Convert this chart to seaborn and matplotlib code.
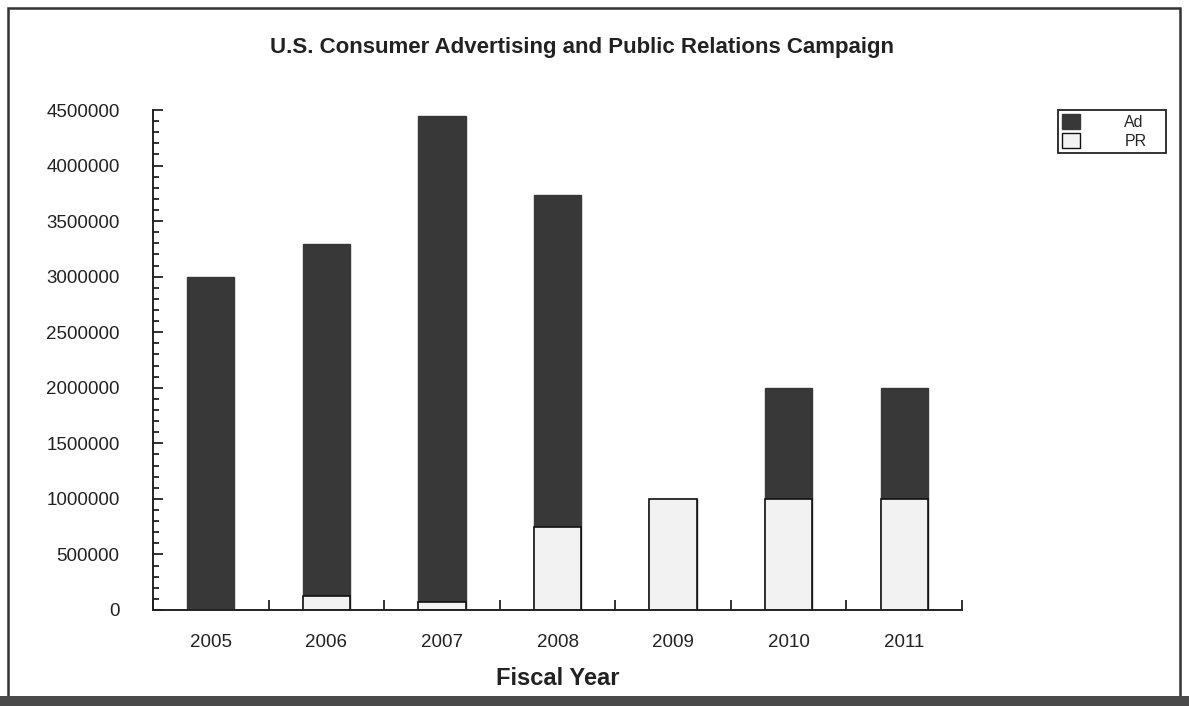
import numpy as np
import pandas as pd
import matplotlib
matplotlib.use("Agg")
import matplotlib.pyplot as plt
from matplotlib.patches import Rectangle, Patch
from matplotlib.ticker import MultipleLocator, FixedLocator
import seaborn as sns

years = ["2005", "2006", "2007", "2008", "2009", "2010", "2011"]
ad = [3000000, 3160000, 4375000, 2990000, 0, 1000000, 1000000]
pr = [0, 130000, 75000, 745000, 1000000, 1000000, 1000000]

title = "U.S. Consumer Advertising and Public Relations Campaign"
xlabel = "Fiscal Year"

df = pd.DataFrame({"year": years, "Ad": ad, "PR": pr})
df["total"] = df["Ad"] + df["PR"]

sns.set_theme(style="white")
plt.rcParams["font.family"] = ["Liberation Sans", "DejaVu Sans"]

W, H = 1189, 706
fig = plt.figure(figsize=(W / 100, H / 100), dpi=100)
fig.patch.set_facecolor("white")
ax = fig.add_axes([153 / W, 1 - 610 / H, (962 - 153) / W, 500 / H])

dark = "#383838"
light = "#f2f2f2"

sns.barplot(data=df, x="year", y="total", color=dark, saturation=1, width=0.41,
            edgecolor=dark, linewidth=1, ax=ax)
sns.barplot(data=df[df["PR"] > 0], x="year", y="PR", color=light, saturation=1, width=0.41,
            edgecolor="#111111", linewidth=1.2, ax=ax, order=years)

ax.set_xlim(-0.5, 6.5)
ax.set_ylim(0, 4500000)
ax.yaxis.set_minor_locator(MultipleLocator(100000))
ax.xaxis.set_minor_locator(FixedLocator(np.arange(-0.5, 7, 1.0)))
ax.set_yticks(np.arange(0, 4500001, 500000))
ax.set_yticklabels([str(v) for v in range(0, 4500001, 500000)])

ax.tick_params(axis="y", which="major", direction="in", length=7, width=1.3,
               color="#222222", labelsize=13.5, pad=24, labelcolor="#222222", left=True)
ax.tick_params(axis="y", which="minor", direction="in", length=4, width=1.3,
               color="#222222", left=True)
ax.tick_params(axis="x", which="major", length=0, labelsize=13.5, pad=17, labelcolor="#222222")
ax.tick_params(axis="x", which="minor", direction="in", length=7, width=1.3,
               color="#222222", bottom=True)

for s in ["top", "right"]:
    ax.spines[s].set_visible(False)
for s in ["left", "bottom"]:
    ax.spines[s].set_color("#222222")
    ax.spines[s].set_linewidth(1.4)

ax.set_ylabel("")
ax.set_xlabel(xlabel, fontsize=17, fontweight="bold", color="#222222", labelpad=12)
ax.grid(False)
ax.set_facecolor("white")

fig.text(582 / W, 1 - 47 / H, title, ha="center", va="center", fontsize=16,
         fontweight="bold", color="#222222")

handles = [Patch(facecolor=dark, edgecolor=dark, label="Ad"),
           Patch(facecolor=light, edgecolor="#111111", label="PR")]
leg = fig.legend(handles=handles, loc="upper left", mode="expand",
                 bbox_to_anchor=(1058 / W, 1 - 147 / H, 108 / W, 37 / H), fontsize=11.5,
                 frameon=True, fancybox=False, framealpha=1, edgecolor="#222222",
                 handlelength=1.1, handleheight=1.05, handletextpad=2.8,
                 labelspacing=0.2, borderpad=0.25, borderaxespad=0)
leg.get_frame().set_linewidth(1.3)

# outer frame and dark scan band at bottom
fig.patches.append(Rectangle((8 / W, 1 - 697 / H), (1180 - 8) / W, (697 - 8) / H,
                             transform=fig.transFigure, fill=False,
                             edgecolor="#333333", linewidth=1.8))
fig.patches.append(Rectangle((0, 0), 1, 10 / H, transform=fig.transFigure,
                             facecolor="#4a4a4a", edgecolor="none"))

fig.savefig("out.png", dpi=100)
